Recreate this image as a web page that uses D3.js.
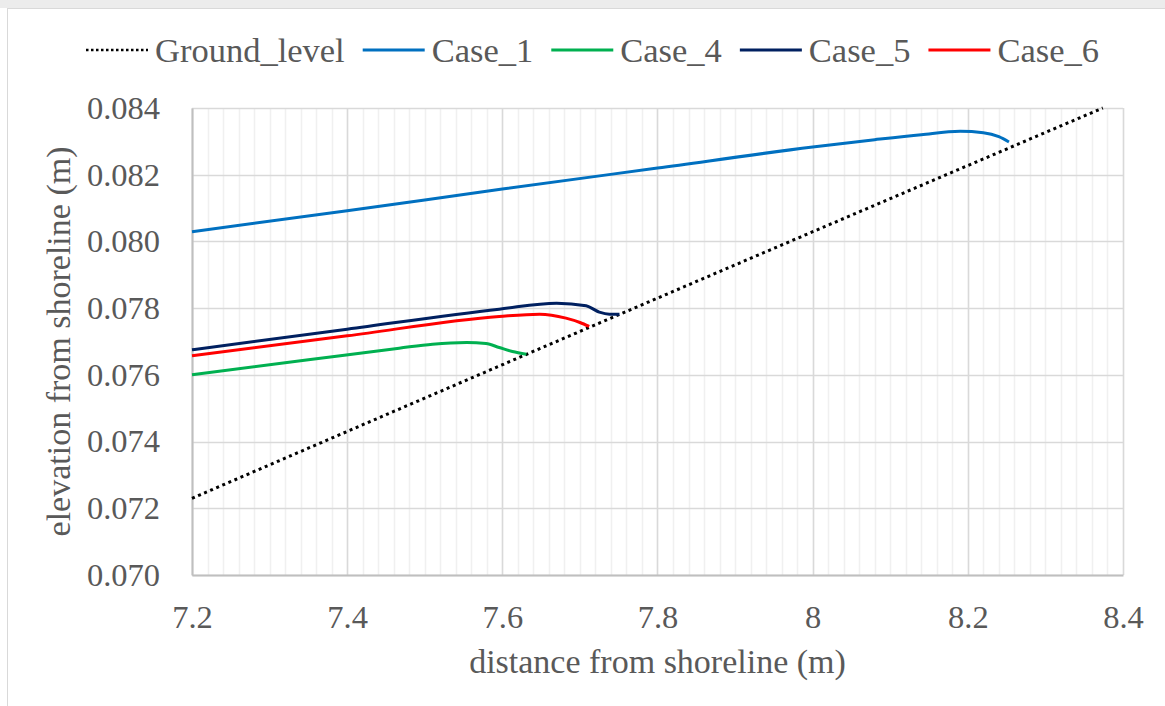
<!DOCTYPE html>
<html>
<head>
<meta charset="utf-8">
<script src="https://cdn.jsdelivr.net/npm/d3@7"></script>
<style>
  body { margin: 0; background: #fff; }
  text { font-family: "Liberation Serif", "Times New Roman", serif; fill: #595959; }
</style>
</head>
<body>
<div class="chart"></div>
<script>
// series data
var groundX = [7.2, 7.8, 8.374];
var groundY = [0.0723, 0.0783, 0.0840];

var case1X = [7.2, 7.4, 7.6, 7.8, 8.0, 8.08, 8.14, 8.19, 8.22, 8.24, 8.253];
var case1Y = [0.08029, 0.08092, 0.08157, 0.0822, 0.08283, 0.08305, 0.0832, 0.0833, 0.08326, 0.08314, 0.08298];

var case4X = [7.2, 7.35, 7.467, 7.51, 7.554, 7.579, 7.596, 7.613, 7.631];
var case4Y = [0.0760, 0.07645, 0.0768, 0.07692, 0.07697, 0.07694, 0.07682, 0.0767, 0.07662];

var case5X = [7.2, 7.4, 7.596, 7.67, 7.708, 7.725, 7.738, 7.751];
var case5Y = [0.07675, 0.07737, 0.07797, 0.07815, 0.07807, 0.07788, 0.07782, 0.07782];

var case6X = [7.2, 7.4, 7.596, 7.648, 7.682, 7.7, 7.712];
var case6Y = [0.07657, 0.07717, 0.07775, 0.07782, 0.0777, 0.07757, 0.07745];

var seriesNames = ["Ground_level", "Case_1", "Case_4", "Case_5", "Case_6"];
var seriesColors = ["#000000", "#0070C0", "#00B050", "#002060", "#FF0000"];

var xTicks = [7.2, 7.4, 7.6, 7.8, 8.0, 8.2, 8.4];
var yTicks = [0.070, 0.072, 0.074, 0.076, 0.078, 0.080, 0.082, 0.084];

var W = 1165, H = 706;
var margin = {top: 108, right: 42, bottom: 131, left: 192};
var width = W - margin.left - margin.right,
    height = H - margin.top - margin.bottom;

var svg = d3.select(".chart").append("svg")
    .attr("width", W)
    .attr("height", H);

// chart frame
svg.append("rect").attr("x", 0).attr("y", 0).attr("width", W).attr("height", 8)
    .style("fill", "#ececec");
svg.append("rect").attr("x", 7.5).attr("y", 8.5).attr("width", W).attr("height", H)
    .style("fill", "none").style("stroke", "#d9d9d9");

var g = svg.append("g")
    .attr("transform", "translate(" + margin.left + "," + margin.top + ")");

var x = d3.scaleLinear().domain([7.2, 8.4]).range([0, width]);
var y = d3.scaleLinear().domain([0.070, 0.084]).range([height, 0]);

// minor vertical grid every 0.02
var minor = d3.range(0, 61).map(function (i) { return 7.2 + i * 0.02; });
g.selectAll(".minor")
    .data(minor)
    .enter().append("line")
    .attr("class", "minor")
    .attr("x1", function (d) { return Math.round(x(d)) + 0.5; })
    .attr("x2", function (d) { return Math.round(x(d)) + 0.5; })
    .attr("y1", 0).attr("y2", height)
    .style("stroke", "#f0f0f0").style("stroke-width", 1.5);

g.selectAll(".vmajor")
    .data(xTicks)
    .enter().append("line")
    .attr("class", "vmajor")
    .attr("x1", function (d) { return Math.round(x(d)) + 0.5; })
    .attr("x2", function (d) { return Math.round(x(d)) + 0.5; })
    .attr("y1", 0).attr("y2", height)
    .style("stroke", "#d9d9d9").style("stroke-width", 1.5);

g.selectAll(".hmajor")
    .data(yTicks)
    .enter().append("line")
    .attr("class", "hmajor")
    .attr("x1", 0).attr("x2", width)
    .attr("y1", function (d) { return Math.round(y(d)) + 0.5; })
    .attr("y2", function (d) { return Math.round(y(d)) + 0.5; })
    .style("stroke", "#d9d9d9").style("stroke-width", 1.5);

// axes
var xAxis = d3.axisBottom(x).tickValues(xTicks).tickSize(0).tickPadding(30)
    .tickFormat(function (d) { return d3.format("")(+d.toFixed(1)); });
var yAxis = d3.axisLeft(y).tickValues(yTicks).tickSize(0).tickPadding(32)
    .tickFormat(d3.format(".3f"));

var gx = g.append("g").attr("transform", "translate(0," + height + ")").call(xAxis);
var gy = g.append("g").call(yAxis);
[gx, gy].forEach(function (a) {
    a.select(".domain").style("stroke", "#bfbfbf").style("stroke-width", 2);
    a.selectAll("text").style("font-size", "32.5px").style("fill", "#595959")
        .style("font-family", "'Liberation Serif', 'Times New Roman', serif");
});

g.append("text")
    .attr("x", width / 2)
    .attr("y", height + 98)
    .style("text-anchor", "middle")
    .style("font-size", "34px")
    .text("distance from shoreline (m)");

g.append("text")
    .attr("transform", "rotate(-90)")
    .attr("x", -height / 2)
    .attr("y", -122)
    .style("text-anchor", "middle")
    .style("font-size", "34px")
    .text("elevation from shoreline (m)");

// lines
function pts(xs, ys) { return xs.map(function (v, i) { return [v, ys[i]]; }); }
var seriesData = [
    pts(groundX, groundY), pts(case1X, case1Y), pts(case4X, case4Y),
    pts(case5X, case5Y), pts(case6X, case6Y)
];

var line = d3.line()
    .x(function (d) { return x(d[0]); })
    .y(function (d) { return y(d[1]); })
    .curve(d3.curveMonotoneX);

seriesData.forEach(function (s, i) {
    var p = g.append("path")
        .datum(s)
        .attr("d", line)
        .style("fill", "none")
        .style("stroke", seriesColors[i])
        .style("stroke-width", 3);
    if (i === 0) p.style("stroke-dasharray", "3,3.6");
});

// legend
var legend = svg.append("g").attr("class", "legend");
var lx = 86, ly = 50;
seriesNames.forEach(function (name, i) {
    var l = legend.append("line")
        .attr("x1", lx).attr("x2", lx + 62)
        .attr("y1", ly).attr("y2", ly)
        .style("stroke", seriesColors[i])
        .style("stroke-width", 3);
    if (i === 0) l.style("stroke-dasharray", "2.5,2.5").style("stroke-width", 2.5);
    var t = legend.append("text")
        .attr("x", lx + 69)
        .attr("y", ly + 12)
        .style("font-size", "34.5px")
        .text(name);
    lx = lx + 69 + t.node().getComputedTextLength() + 18;
});
</script>
</body>
</html>
